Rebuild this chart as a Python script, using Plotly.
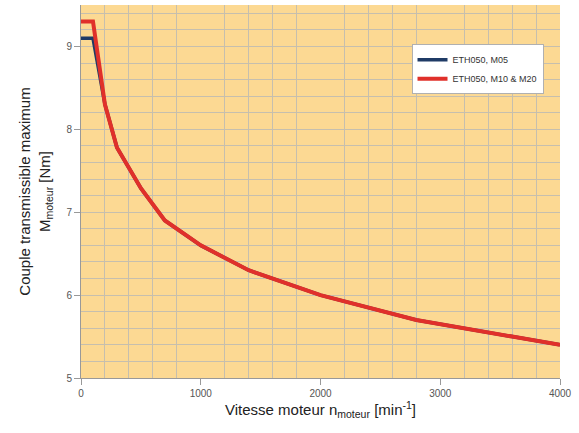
import plotly.graph_objects as go

speed_red = [0, 100, 200, 300, 500, 700, 1000, 1400, 2000, 2800, 3600, 4000]
torque_red = [9.3, 9.3, 8.3, 7.78, 7.29, 6.9, 6.6, 6.3, 6.0, 5.7, 5.5, 5.4]
speed_blue = [0, 100, 200, 300, 500, 700, 1000, 1400, 2000, 2800, 3600, 4000]
torque_blue = [9.1, 9.1, 8.3, 7.78, 7.29, 6.9, 6.6, 6.3, 6.0, 5.7, 5.5, 5.4]
names = ["ETH050, M05", "ETH050, M10 & M20"]

fig = go.Figure()
fig.add_trace(go.Scatter(x=speed_blue, y=torque_blue, mode="lines", name=names[0],
                         line=dict(color="#1f3b66", width=3.5)))
fig.add_trace(go.Scatter(x=speed_red, y=torque_red, mode="lines", name=names[1],
                         line=dict(color="#e0302a", width=4)))

fig.update_layout(
    width=579, height=433,
    margin=dict(l=81, r=19, t=5, b=55),
    paper_bgcolor="white",
    plot_bgcolor="#fcd993",
    font=dict(family="Liberation Sans, Arial", color="#222"),
    showlegend=True,
    legend=dict(x=0.69, y=0.895, xanchor="left", yanchor="top",
                bgcolor="white", bordercolor="#b0b0b0", borderwidth=1,
                font=dict(size=9, family="Liberation Sans Narrow, Liberation Sans", color="#333"),
                tracegroupgap=0, itemwidth=30),
    xaxis=dict(range=[0, 4000], dtick=1000, showgrid=False,
               minor=dict(dtick=200, showgrid=True, gridcolor="#c6bfae", gridwidth=1),
               ticks="outside", ticklen=6, tickcolor="#999",
               showline=True, linecolor="#999", linewidth=1,
               tickfont=dict(size=10, color="#555"),
               title=dict(text="Vitesse moteur n<sub>moteur</sub> [min<sup>-1</sup>]",
                          font=dict(size=15, color="#222"), standoff=6),
               zeroline=False),
    yaxis=dict(range=[5, 9.5], tickvals=[5, 6, 7, 8, 9], showgrid=False,
               minor=dict(dtick=0.2, tick0=5, showgrid=True, gridcolor="#c6bfae", gridwidth=1),
               ticks="outside", ticklen=6, tickcolor="#999",
               showline=True, linecolor="#999", linewidth=1,
               tickfont=dict(size=10, color="#555"),
               title=dict(text="Couple transmissible maximum<br>M<sub>moteur</sub> [Nm]",
                          font=dict(size=15, color="#222"), standoff=12),
               zeroline=False),
)

fig.write_html("out.html")
